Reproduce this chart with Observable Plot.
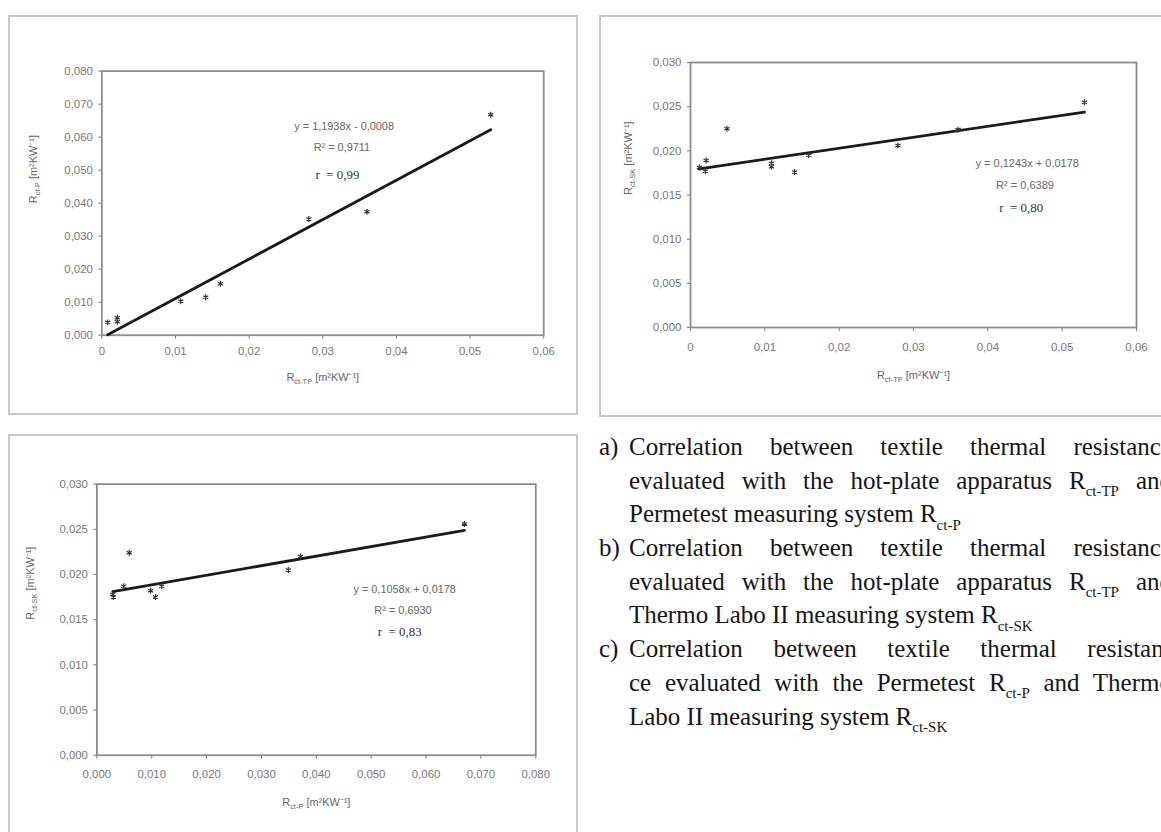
<!DOCTYPE html>
<html>
<head>
<meta charset="utf-8">
<script src="https://cdn.jsdelivr.net/npm/d3@7"></script>
<script src="https://cdn.jsdelivr.net/npm/@observablehq/plot@0.6"></script>
<style>
html,body{margin:0;padding:0;background:#fff;}
body{width:1161px;height:832px;overflow:hidden;position:relative;font-family:Arial,"Liberation Sans",sans-serif;}
.box{position:absolute;border:2px solid #c8c8c8;box-sizing:border-box;background:#fff;}
.box svg{position:absolute;left:-2px;top:-2px;overflow:visible;}
#caption{position:absolute;left:599px;top:430px;font-family:"Liberation Serif","Times New Roman",serif;font-size:25px;line-height:33.7px;color:#151515;}
.item{position:relative;padding-left:30px;}
.item .lab{position:absolute;left:0;top:0;}
.ln{width:543px;height:33.7px;text-align:justify;text-align-last:justify;}
.ln.last{text-align-last:left;}
.sb{font-size:0.6em;line-height:0;position:relative;top:0.5em;}
</style>
</head>
<body>
<div class="box" id="boxA" style="left:8px;top:15px;width:570px;height:400px;"></div>
<div class="box" id="boxB" style="left:599px;top:15px;width:590px;height:402px;"></div>
<div class="box" id="boxC" style="left:8px;top:434px;width:570px;height:410px;"></div>

<div id="caption">
  <div class="item"><span class="lab">a)</span>
    <div class="ln">Correlation between textile thermal resistance</div>
    <div class="ln">evaluated with the hot-plate apparatus R<span class="sb">ct-TP</span> and</div>
    <div class="ln last">Permetest measuring system R<span class="sb">ct-P</span></div>
  </div>
  <div class="item"><span class="lab">b)</span>
    <div class="ln">Correlation between textile thermal resistance</div>
    <div class="ln">evaluated with the hot-plate apparatus R<span class="sb">ct-TP</span> and</div>
    <div class="ln last">Thermo Labo II measuring system R<span class="sb">ct-SK</span></div>
  </div>
  <div class="item"><span class="lab">c)</span>
    <div class="ln">Correlation between textile thermal resistan-</div>
    <div class="ln">ce evaluated with the Permetest R<span class="sb">ct-P</span> and Thermo</div>
    <div class="ln last">Labo II measuring system R<span class="sb">ct-SK</span></div>
  </div>
</div>

<script>
// ---------- DATA ----------
// Panel a: R_ct-TP (x) vs R_ct-P (y)
const aX = [0.0008, 0.0021, 0.0021, 0.0107, 0.0141, 0.0161, 0.0281, 0.0360, 0.0528];
const aY = [0.0039, 0.0053, 0.0041, 0.0103, 0.0115, 0.0156, 0.0352, 0.0374, 0.0668];
const aFit = [1.1938, -0.0008];
const aEq = ["y = 1,1938x - 0,0008", "R² = 0,9711", "r  = 0,99"];
const aXTicks = [0, 0.01, 0.02, 0.03, 0.04, 0.05, 0.06];
const aYTicks = [0, 0.01, 0.02, 0.03, 0.04, 0.05, 0.06, 0.07, 0.08];
const aXTitle = "R|ct-TP| [m²KW⁻¹]";
const aYTitle = "R|ct-P| [m²KW⁻¹]";

// Panel b: R_ct-TP (x) vs R_ct-SK (y)
const bX = [0.0012, 0.0021, 0.0020, 0.0049, 0.0109, 0.0109, 0.0140, 0.0159, 0.0279, 0.0360, 0.0530];
const bY = [0.0181, 0.0189, 0.0177, 0.0225, 0.0186, 0.0182, 0.0176, 0.0195, 0.0206, 0.0224, 0.0255];
const bFit = [0.1243, 0.0178];
const bEq = ["y = 0,1243x + 0,0178", "R² = 0,6389", "r  = 0,80"];
const bXTicks = [0, 0.01, 0.02, 0.03, 0.04, 0.05, 0.06];
const bYTicks = [0, 0.005, 0.01, 0.015, 0.02, 0.025, 0.03];
const bXTitle = "R|ct-TP| [m²KW⁻¹]";
const bYTitle = "R|ct-SK| [m²KW⁻¹]";

// Panel c: R_ct-P (x) vs R_ct-SK (y)
const cX = [0.0029, 0.0030, 0.0049, 0.0059, 0.0098, 0.0107, 0.0118, 0.0349, 0.0371, 0.0670];
const cY = [0.0178, 0.0175, 0.0187, 0.0224, 0.0182, 0.0175, 0.0187, 0.0205, 0.0220, 0.0256];
const cFit = [0.1058, 0.0178];
const cEq = ["y = 0,1058x + 0,0178", "R² = 0,6930", "r  = 0,83"];
const cXTicks = [0, 0.01, 0.02, 0.03, 0.04, 0.05, 0.06, 0.07, 0.08];
const cYTicks = [0, 0.005, 0.01, 0.015, 0.02, 0.025, 0.03];
const cXTitle = "R|ct-P| [m²KW⁻¹]";
const cYTitle = "R|ct-SK| [m²KW⁻¹]";

// ---------- helpers ----------
const fmt3 = d => d.toFixed(3).replace(".", ",");
const fmt2 = d => d === 0 ? "0" : d.toFixed(2).replace(".", ",");

function panel(o) {
  const pts = o.xs.map((x, i) => ({x, y: o.ys[i]}));
  const ext = d3.extent(o.xs);
  const fit = ext.map(x => ({x, y: o.fit[0] * x + o.fit[1]}));
  const eq = o.eq.map((t, i) => ({t, x: o.eqX[i], y: o.eqY[i]}));
  const svg = Plot.plot({
    width: o.w, height: o.h,
    marginLeft: o.ml, marginRight: o.mr, marginTop: o.mt, marginBottom: o.mb,
    x: {domain: o.xDomain},
    y: {domain: o.yDomain},
    style: {fontFamily: "Arial, 'Liberation Sans', sans-serif", fontSize: "11.5px", color: "#5a5a5a", background: "transparent", overflow: "visible"},
    marks: [
      Plot.axisX(o.xTicks, {tickFormat: o.xFmt, tickSize: 4, tickPadding: o.xPad, label: null, color: "#777"}),
      Plot.axisY(o.yTicks, {tickFormat: fmt3, tickSize: 3, tickPadding: 6, label: null, color: "#777"}),
      Plot.frame({stroke: "#8c8c8c", strokeWidth: 1.8}),
      Plot.line(fit, {x: "x", y: "y", stroke: "#1a1a1a", strokeWidth: 2.8}),
      Plot.dot(pts, {x: "x", y: "y", symbol: "asterisk", r: 2.8, stroke: "#333", strokeWidth: 1.2}),
      Plot.text(eq.slice(0, 2), {x: "x", y: "y", text: "t", fontSize: 11, fill: "#666"}),
      Plot.text(eq.slice(2), {x: "x", y: "y", text: "t", fontSize: 13, fill: "#333", fontFamily: "Liberation Serif, serif"}),
      Plot.text([o.xTitle], {frameAnchor: "bottom", dy: o.xtd, text: d => d, fontSize: 11, fill: "#666"}),
      Plot.text([o.yTitle], {frameAnchor: "left", dx: -o.ytd, rotate: -90, text: d => d, fontSize: 11, fill: "#666"})
    ]
  });
  d3.select(svg).selectAll("text").each(function() {
    const s = this.textContent;
    if (s.indexOf("|") < 0) return;
    const parts = s.split("|");
    const t = d3.select(this);
    t.selectAll("*").remove();
    t.text(null);
    t.append("tspan").text(parts[0]);
    t.append("tspan").attr("font-size", 7.5).attr("dy", 3).text(parts[1]);
    t.append("tspan").attr("dy", -3).text(parts[2]);
  });
  document.getElementById(o.target).appendChild(svg);
}

panel({
  target: "boxA", xs: aX, ys: aY, fit: aFit, eq: aEq,
  eqX: [0.0329, 0.0326, 0.0320], eqY: [0.0632, 0.0568, 0.0487],
  xTicks: aXTicks, yTicks: aYTicks, xFmt: fmt2, xPad: 8,
  xDomain: [0, 0.06], yDomain: [0, 0.08],
  xTitle: aXTitle, yTitle: aYTitle,
  w: 570, h: 400, ml: 94, mr: 31, mt: 56, mb: 78, xtd: 46, ytd: 69
});
panel({
  target: "boxB", xs: bX, ys: bY, fit: bFit, eq: bEq,
  eqX: [0.0453, 0.0450, 0.0445], eqY: [0.0186, 0.0161, 0.0136],
  xTicks: bXTicks, yTicks: bYTicks, xFmt: fmt2, xPad: 11,
  xDomain: [0, 0.06], yDomain: [0, 0.03],
  xTitle: bXTitle, yTitle: bYTitle,
  w: 580, h: 402, ml: 91, mr: 43, mt: 47, mb: 90, xtd: 51, ytd: 62
});
panel({
  target: "boxC", xs: cX, ys: cY, fit: cFit, eq: cEq,
  eqX: [0.0561, 0.0558, 0.0552], eqY: [0.0183, 0.0160, 0.0136],
  xTicks: cXTicks, yTicks: cYTicks, xFmt: fmt3, xPad: 11,
  xDomain: [0, 0.08], yDomain: [0, 0.03],
  xTitle: cXTitle, yTitle: cYTitle,
  w: 570, h: 400, ml: 89, mr: 39, mt: 50, mb: 77, xtd: 51, ytd: 67
});
</script>
</body>
</html>
